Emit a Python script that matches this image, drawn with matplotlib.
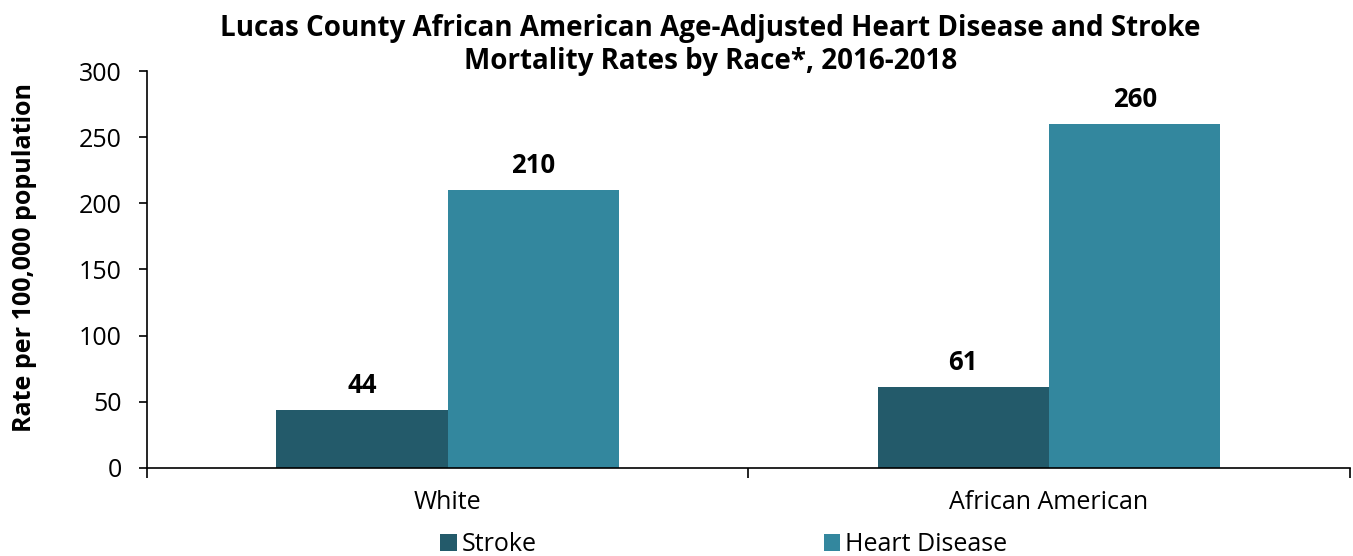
import matplotlib
matplotlib.use("Agg")
import matplotlib.pyplot as plt
import numpy as np

categories = ["White", "African American"]
series_names = ["Stroke", "Heart Disease"]
stroke = [44, 61]
heart = [210, 260]
yticks = [0, 50, 100, 150, 200, 250, 300]

colors = ["#235A6A", "#33879E"]
plt.rcParams['font.family'] = ['Open Sans', 'DejaVu Sans']

fig = plt.figure(figsize=(13.53, 5.56), dpi=100)
ax = fig.add_axes([0.1086, 0.1583, 0.889, 0.714])

x = np.arange(len(categories))
w = 0.285
b1 = ax.bar(x - w/2, stroke, w, color=colors[0], label=series_names[0])
b2 = ax.bar(x + w/2, heart, w, color=colors[1], label=series_names[1])
for bars in (b1, b2):
    for r in bars:
        ax.annotate(f"{int(r.get_height())}", (r.get_x() + r.get_width()/2, r.get_height()),
                    xytext=(0, 8), textcoords="offset points", ha="center", va="bottom",
                    fontsize=18.5, fontweight="bold")

ax.set_xlim(-0.5, len(categories) - 0.5)
ax.set_ylim(0, 300)
ax.set_yticks(yticks)
ax.tick_params(axis="y", labelsize=18, length=6, width=1.2, direction="out", pad=12)
ax.set_xticks(np.arange(len(categories) + 1) - 0.5)
ax.set_xticklabels([])
ax.set_xticks(x, minor=True)
ax.set_xticklabels(categories, minor=True)
ax.tick_params(axis="x", which="major", length=7, width=1.2)
ax.tick_params(axis="x", which="minor", length=0, labelsize=18, pad=16)
for s in ["top", "right"]:
    ax.spines[s].set_visible(False)
ax.spines["left"].set_linewidth(1.2)
ax.spines["bottom"].set_linewidth(1.2)

ax.set_ylabel("Rate per 100,000 population", fontsize=18, fontweight="bold")
ax.yaxis.set_label_coords(-0.091, 0.53)
fig.suptitle("Lucas County African American Age-Adjusted Heart Disease and Stroke\nMortality Rates by Race*, 2016-2018",
             fontsize=20, fontweight="bold", y=0.975, x=0.525, linespacing=1.17)

fig.legend(handles=[b1, b2], labels=series_names, loc="lower center", ncol=2, frameon=False,
           fontsize=18, bbox_to_anchor=(0.535, -0.043), columnspacing=11.5, handlelength=0.65,
           handleheight=0.65, handletextpad=0.2)

fig.savefig("out.png", dpi=100)
